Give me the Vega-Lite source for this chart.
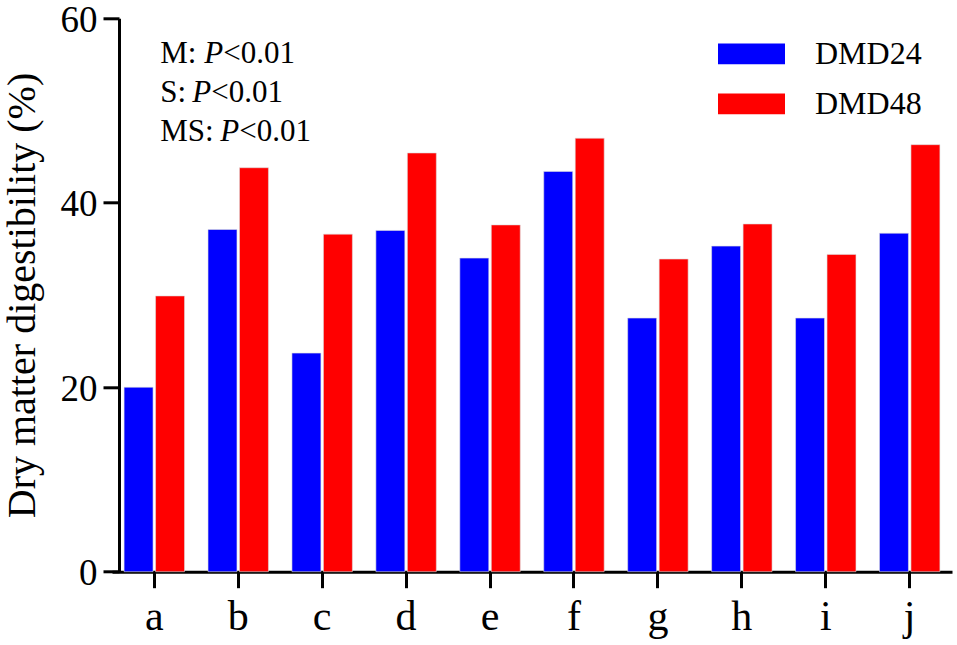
{
  "$schema": "https://vega.github.io/schema/vega-lite/v6.json",
  "width": 840,
  "height": 553.4,
  "autosize": "none",
  "padding": {"left": 112, "top": 18.3, "right": 5, "bottom": 73.3},
  "background": "white",
  "config": {
    "view": {"stroke": null},
    "font": "Liberation Serif",
    "axis": {"labelFont": "Liberation Serif", "titleFont": "Liberation Serif", "labelColor": "black", "titleColor": "black", "domainColor": "black", "tickColor": "black", "domainWidth": 3, "tickWidth": 3, "tickSize": 16, "grid": false}
  },
  "layer": [
    {
      "data": {
        "values": [
          {"cat": "a", "series": "DMD24", "value": 20.0},
          {"cat": "a", "series": "DMD48", "value": 29.9},
          {"cat": "b", "series": "DMD24", "value": 37.1},
          {"cat": "b", "series": "DMD48", "value": 43.8},
          {"cat": "c", "series": "DMD24", "value": 23.7},
          {"cat": "c", "series": "DMD48", "value": 36.6},
          {"cat": "d", "series": "DMD24", "value": 37.0},
          {"cat": "d", "series": "DMD48", "value": 45.4},
          {"cat": "e", "series": "DMD24", "value": 34.0},
          {"cat": "e", "series": "DMD48", "value": 37.6},
          {"cat": "f", "series": "DMD24", "value": 43.4},
          {"cat": "f", "series": "DMD48", "value": 47.0},
          {"cat": "g", "series": "DMD24", "value": 27.5},
          {"cat": "g", "series": "DMD48", "value": 33.9},
          {"cat": "h", "series": "DMD24", "value": 35.3},
          {"cat": "h", "series": "DMD48", "value": 37.7},
          {"cat": "i", "series": "DMD24", "value": 27.5},
          {"cat": "i", "series": "DMD48", "value": 34.4},
          {"cat": "j", "series": "DMD24", "value": 36.7},
          {"cat": "j", "series": "DMD48", "value": 46.3}
        ]
      },
      "mark": {"type": "bar", "stroke": "#dddddd", "strokeWidth": 0.6},
      "encoding": {
        "x": {
          "field": "cat", "type": "nominal",
          "scale": {"paddingInner": 0.28, "paddingOuter": 0.144},
          "axis": {"title": null, "labelAngle": 0, "labelFontSize": 42, "labelPadding": 9}
        },
        "xOffset": {"field": "series", "type": "nominal", "scale": {"paddingInner": 0.08, "paddingOuter": 0}},
        "y": {
          "field": "value", "type": "quantitative",
          "scale": {"domain": [0, 60], "nice": false},
          "axis": {"title": "Dry matter digestibility (%)", "titleFontSize": 40, "titleFontWeight": "normal", "titlePadding": 18, "values": [0, 20, 40, 60], "labelFontSize": 37, "labelPadding": 6, "labelOffset": 2, "offset": -7}
        },
        "color": {
          "field": "series", "type": "nominal",
          "scale": {"domain": ["DMD24", "DMD48"], "range": ["#0000FF", "#FF0000"]},
          "legend": {"orient": "none", "legendX": 606, "legendY": 2, "title": null, "padding": 0, "symbolType": "M-1,-0.31H1V0.31H-1Z", "symbolSize": 4489, "symbolStrokeWidth": 0, "labelFontSize": 32, "labelFont": "Liberation Serif", "labelColor": "black", "labelOffset": 30, "rowPadding": -23.5}
        }
      }
    },
    {
      "data": {"values": [{"t": "M:"}]},
      "mark": {"type": "text", "align": "left", "baseline": "alphabetic", "fontSize": 31, "dx": 6, "color": "black"},
      "encoding": {"x": {"datum": "a", "type": "nominal"}, "y": {"datum": 55.1, "type": "quantitative"}, "text": {"field": "t"}}
    },
    {
      "data": {"values": [{"t": "P"}]},
      "mark": {"type": "text", "align": "left", "baseline": "alphabetic", "fontSize": 31, "fontStyle": "italic", "dx": 50, "color": "black"},
      "encoding": {"x": {"datum": "a", "type": "nominal"}, "y": {"datum": 55.1, "type": "quantitative"}, "text": {"field": "t"}}
    },
    {
      "data": {"values": [{"t": "<0.01"}]},
      "mark": {"type": "text", "align": "left", "baseline": "alphabetic", "fontSize": 31, "dx": 69, "color": "black"},
      "encoding": {"x": {"datum": "a", "type": "nominal"}, "y": {"datum": 55.1, "type": "quantitative"}, "text": {"field": "t"}}
    },
    {
      "data": {"values": [{"t": "S:"}]},
      "mark": {"type": "text", "align": "left", "baseline": "alphabetic", "fontSize": 31, "dx": 6, "color": "black"},
      "encoding": {"x": {"datum": "a", "type": "nominal"}, "y": {"datum": 50.95, "type": "quantitative"}, "text": {"field": "t"}}
    },
    {
      "data": {"values": [{"t": "P"}]},
      "mark": {"type": "text", "align": "left", "baseline": "alphabetic", "fontSize": 31, "fontStyle": "italic", "dx": 38, "color": "black"},
      "encoding": {"x": {"datum": "a", "type": "nominal"}, "y": {"datum": 50.95, "type": "quantitative"}, "text": {"field": "t"}}
    },
    {
      "data": {"values": [{"t": "<0.01"}]},
      "mark": {"type": "text", "align": "left", "baseline": "alphabetic", "fontSize": 31, "dx": 57, "color": "black"},
      "encoding": {"x": {"datum": "a", "type": "nominal"}, "y": {"datum": 50.95, "type": "quantitative"}, "text": {"field": "t"}}
    },
    {
      "data": {"values": [{"t": "MS:"}]},
      "mark": {"type": "text", "align": "left", "baseline": "alphabetic", "fontSize": 31, "dx": 6, "color": "black"},
      "encoding": {"x": {"datum": "a", "type": "nominal"}, "y": {"datum": 46.75, "type": "quantitative"}, "text": {"field": "t"}}
    },
    {
      "data": {"values": [{"t": "P"}]},
      "mark": {"type": "text", "align": "left", "baseline": "alphabetic", "fontSize": 31, "fontStyle": "italic", "dx": 66, "color": "black"},
      "encoding": {"x": {"datum": "a", "type": "nominal"}, "y": {"datum": 46.75, "type": "quantitative"}, "text": {"field": "t"}}
    },
    {
      "data": {"values": [{"t": "<0.01"}]},
      "mark": {"type": "text", "align": "left", "baseline": "alphabetic", "fontSize": 31, "dx": 85, "color": "black"},
      "encoding": {"x": {"datum": "a", "type": "nominal"}, "y": {"datum": 46.75, "type": "quantitative"}, "text": {"field": "t"}}
    }
  ]
}
